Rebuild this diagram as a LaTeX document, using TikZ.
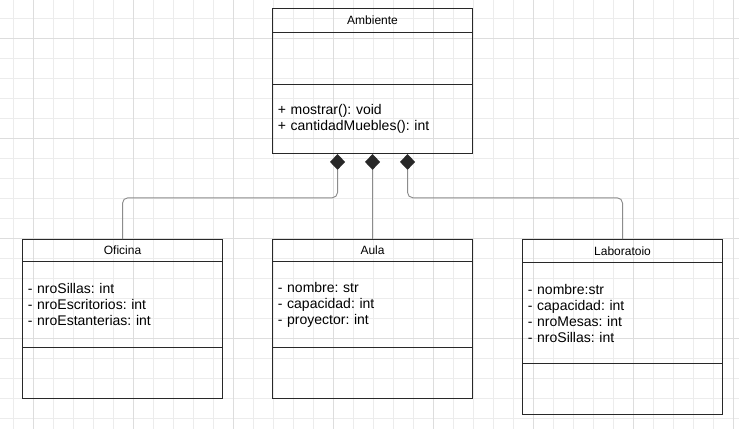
\documentclass[tikz,border=0pt]{standalone}
\usepackage{fontspec}
\setmainfont{Liberation Sans}
\frenchspacing
\usetikzlibrary{positioning,shapes.geometric}
\definecolor{gridminor}{RGB}{236,236,236}
\definecolor{gridmajor}{RGB}{221,221,221}
\definecolor{boxline}{RGB}{40,40,40}
\definecolor{linkline}{RGB}{140,140,140}

\begin{document}
\begin{tikzpicture}[x=0.75pt,y=-0.75pt,thick,node distance=-0.8pt,
  title/.style={rectangle,draw=boxline,line width=0.8pt,minimum width=150pt,minimum height=16.5pt,inner sep=0pt,font=\fontsize{9}{11}\selectfont},
  part/.style={rectangle,draw=boxline,line width=0.8pt,minimum width=150pt,text width=142pt,inner xsep=4pt,inner ysep=0pt,align=left,font=\fontsize{10.5}{12}\selectfont},
  comp/.style={diamond,fill=boxline,draw=boxline,inner sep=0pt,minimum width=10.5pt,minimum height=11pt},
  link/.style={draw=linkline,line width=0.7pt,rounded corners=4pt}]

  \useasboundingbox (0,0) rectangle (739,429);
  \fill[white] (0,0) rectangle (739,429);
  \foreach \x in {13,33,...,739} \draw[gridminor,line width=0.6pt] (\x,0) -- (\x,429);
  \foreach \y in {18,38,...,429} \draw[gridminor,line width=0.6pt] (0,\y) -- (739,\y);
  \foreach \x in {33,133,...,739} \draw[gridmajor,line width=0.6pt] (\x,0) -- (\x,429);
  \foreach \y in {38,138,...,429} \draw[gridmajor,line width=0.6pt] (0,\y) -- (739,\y);

  \node[title,minimum height=18pt,anchor=north west] (a1) at (272,8) {Ambiente};
  \node[part,minimum height=39pt,below=of a1] (a2) {};
  \node[part,minimum height=51.75pt,below=of a2] (a3) {+ mostrar(): void\\+ cantidadMuebles(): int};

  \node[title,anchor=north west] (o1) at (22,239) {Oficina};
  \node[part,minimum height=64.5pt,below=of o1] (o2) {- nroSillas: int\\- nroEscritorios: int\\- nroEstanterias: int};
  \node[part,minimum height=38.25pt,below=of o2] (o3) {};

  \node[title,anchor=north west] (u1) at (272,239) {Aula};
  \node[part,minimum height=64.5pt,below=of u1] (u2) {- nombre: str\\- capacidad: int\\- proyector: int};
  \node[part,minimum height=38.25pt,below=of u2] (u3) {};

  \node[title,minimum height=17.25pt,anchor=north west] (l1) at (522,239) {Laboratoio};
  \node[part,minimum height=75.75pt,below=of l1] (l2) {- nombre:str\\- capacidad: int\\- nroMesas: int\\- nroSillas: int};
  \node[part,minimum height=38.25pt,below=of l2] (l3) {};

  \node[comp,anchor=north] (d1) at ([xshift=-26.25pt]a3.south) {};
  \node[comp,anchor=north] (d2) at (a3.south) {};
  \node[comp,anchor=north] (d3) at ([xshift=26.25pt]a3.south) {};

  \draw[link] (d1.south) -- ++(0,28) -| (o1.north);
  \draw[link] (d2.south) -- (u1.north);
  \draw[link] (d3.south) -- ++(0,28) -| (l1.north);

\end{tikzpicture}
\end{document}
